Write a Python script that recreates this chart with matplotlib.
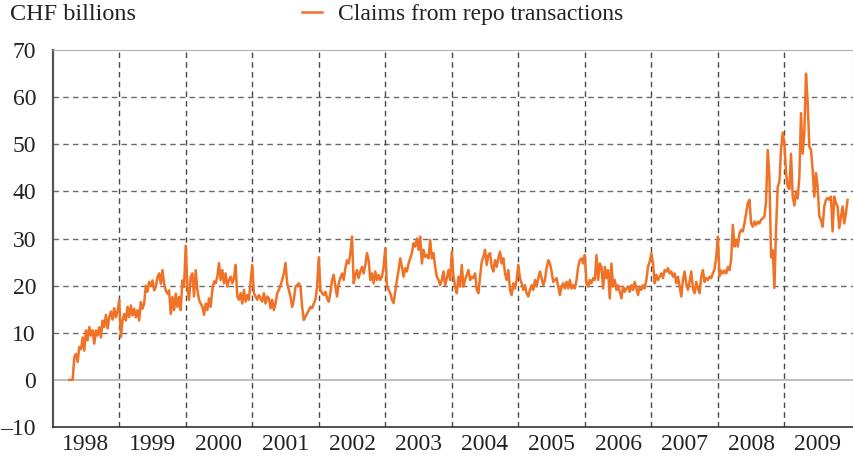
import matplotlib.pyplot as plt

plt.rcParams['font.family'] = ['Liberation Serif', 'DejaVu Serif']

# Claims from repo transactions, CHF billions
# one value about every 1/40 of a year (~9 days)
v1998 = [0, 0, 0, 4.8, 5.5, 3.8, 7, 6.5, 9, 6.2,
         10.5, 8.4, 11.2, 9.4, 10.5, 7.7, 10.5, 9.4, 11.2, 9,
         12.6, 11.2, 13.8, 10.9, 13.3, 14.5, 12.8, 15.2, 13.3, 14.6]
v1999 = [16.9, 9.1, 12.6, 14, 12.6, 15.5, 13.3, 15.8, 13.7, 15.1,
         13.3, 14.8, 12.6, 16.5, 15.1, 16.2, 20, 18.7, 20.8, 20,
         21.1, 19, 19.7, 21.8, 22.6, 20.4, 23.3, 20.4, 19, 18.3,
         19, 14, 17.6, 14.8, 18.3, 15.5, 17.6, 14.8, 21.1, 19.7]
v2000 = [28.5, 19.8, 17, 21.9, 22.6, 17.7, 23.3, 19.1, 17, 16.2,
         15.5, 13.8, 16.2, 14.8, 17.3, 15.5, 19.1, 20.9, 20.5, 21.9,
         24.8, 21.2, 23.3, 20.5, 22.6, 19.8, 21.2, 21.9, 20.5, 21.6,
         24.4, 17.7, 17, 18.4, 16.2, 19.1, 16.6, 18, 17, 20.9]
v2001 = [24.4, 18.4, 17.7, 17, 18, 17.3, 16.6, 18.4, 16.2, 17.7,
         17.3, 15.2, 17, 14.8, 16.2, 18.4, 19.1, 20.1, 21.2, 22.6,
         24.8, 20.5, 19.1, 17.7, 15.5, 17, 19.8, 20.1, 20.5, 19.8,
         15.5, 12.7, 13.4, 14.1, 14.8, 15.5, 15.2, 16.2, 17, 19.8]
v2002 = [26, 19.1, 18.4, 18, 18.7, 17.3, 16.6, 18.4, 21.2, 22.3,
         19.8, 17.7, 20.5, 21.6, 22.6, 21.2, 23.7, 25.4, 24.7, 26.9,
         30.4, 20.5, 22.3, 23.3, 21.6, 23, 24, 22.6, 24.4, 26.9,
         25.4, 21.2, 22.6, 20.5, 23, 21.2, 22.3, 21.2, 21.9, 24]
v2003 = [27.9, 19.8, 19.1, 18.4, 17, 16.3, 18.7, 21.2, 23.3, 25.8,
         24, 21.9, 23.7, 23, 24.7, 25.8, 26.9, 29, 28.3, 30,
         27.6, 30.4, 24.7, 27.6, 26.1, 26.5, 25.8, 29.7, 25.8, 26.9,
         24, 21.9, 21.2, 20.1, 21.2, 23, 20.1, 21.6, 23.3, 21.2]
v2004 = [27.2, 22, 19.8, 18.4, 21.9, 19.8, 24.4, 19.8, 21.2, 22.3,
         23.3, 21.2, 21.9, 21.6, 22.6, 19.1, 18.4, 21.9, 25.1, 26.1,
         27.6, 24.4, 26.5, 26.9, 24, 23, 25.4, 24, 25.8, 27.2,
         24.7, 25.8, 22.6, 21.2, 23.3, 19.1, 18, 20.5, 19.4, 21.2]
v2005 = [24.4, 21.6, 20.5, 19.1, 20.1, 18.4, 17.7, 19.1, 20.1, 19.1,
         21.2, 19.8, 21.6, 23, 21.6, 20.1, 21.2, 23.7, 25.4, 24.7,
         23, 20.8, 21.2, 21.6, 19.8, 18, 19.8, 20.5, 19.4, 20.8,
         19.4, 21.2, 19.4, 20.1, 19.4, 21.2, 24, 25.4, 25.8, 24.7]
v2006 = [26.5, 20.5, 19.8, 21.2, 20.5, 21.6, 21.2, 26.5, 21.2, 24.7,
         24, 19.4, 24, 21.6, 23.3, 17.3, 24.7, 19.8, 21.2, 19.1,
         20.1, 18.7, 17.3, 19.8, 18.7, 19.4, 19.8, 18.7, 20.1, 19.1,
         20.8, 19.4, 18, 19.8, 19.1, 20.1, 19.4, 21.2, 24, 25.1]
v2007 = [26.9, 24.7, 20.5, 22.3, 21.2, 21.9, 22.6, 21.6, 23.3, 23,
         23.7, 22.6, 23, 21.9, 22.6, 20.5, 21.9, 19.8, 17.7, 21.2,
         23, 20.5, 19.1, 20.8, 23, 19.4, 18.4, 20.8, 19.4, 18.4,
         21.9, 23.3, 20.8, 21.6, 21.2, 21.9, 21.6, 22.6, 23.5, 26]
v2008 = [30.4, 22, 23.2, 22.6, 23.2, 22.6, 24, 23.3, 25.5, 32.9,
         28.3, 29.7, 28.3, 31.1, 31.8, 31.5, 33.2, 35.4, 37.5, 38.2,
         33.2, 32.5, 33.6, 32.9, 33.6, 33.2, 34, 34.3, 34.7, 38,
         48.8, 43, 26, 27.5, 19.5, 32, 41, 42, 49, 52.5]
v2009 = [50.2, 44, 41, 40.5, 48, 39, 37, 40, 38.5, 43,
         56.6, 48, 52.4, 65, 59, 49.5, 48.8, 44.6, 38.9, 43.9,
         41, 34.7, 34, 32.5, 36.8, 38.2, 38.6, 38.2, 38.9, 31.5,
         38.9, 37.5, 36.8, 32.2, 34.5, 36.8, 33.2, 35.4, 38.2]

years = list(range(1998, 2010))
series = [v1998, v1999, v2000, v2001, v2002, v2003,
          v2004, v2005, v2006, v2007, v2008, v2009]
first_step = {1998: 10}  # 1998 data start in April

x, y = [], []
for yr, vals in zip(years, series):
    s = first_step.get(yr, 0)
    for i, v in enumerate(vals):
        x.append(yr + (s + i) / 40)
        y.append(v)

fig = plt.figure(figsize=(8.54, 4.58), dpi=100)
ax = fig.add_axes([0.0617, 0.0677, 0.937, 0.823])

ax.plot(x, y, color='#f07226', lw=1.8, label='Claims from repo transactions', zorder=3)

ax.set_xlim(1998, 2010.03)
ax.set_ylim(-10, 70)

# grid
ax.axhline(0, color='#b4b4b4', lw=1.2, zorder=1)
for v in range(10, 70, 10):
    ax.axhline(v, color='#6a6a6a', lw=1, ls=(0, (4, 3)), zorder=1)
for yr in years[1:]:
    ax.axvline(yr, color='#4a4a4a', lw=1, ls=(0, (4, 3)), zorder=1)

ax.set_xticks([yr + 0.5 for yr in years])
ax.set_xticklabels([str(yr) for yr in years])
yt = list(range(-10, 71, 10))
ax.set_yticks(yt)
ax.set_yticklabels([('–' + str(-t)) if t < 0 else str(t) for t in yt])
ax.tick_params(axis='both', length=0, labelsize=17, colors='#222222')
ax.tick_params(axis='y', pad=12)
ax.tick_params(axis='x', pad=5)

ax.spines['left'].set_color('#555555')
ax.spines['left'].set_linewidth(1.6)
ax.spines['bottom'].set_color('#333333')
ax.spines['bottom'].set_linewidth(1.2)
ax.spines['top'].set_color('#b0b0b0')
ax.spines['right'].set_color('#b0b0b0')

fig.text(0.012, 0.968, 'CHF billions', fontsize=17.5, color='#222222', va='center')
fig.legend(loc='center left', bbox_to_anchor=(0.342, 0.968), frameon=False,
           fontsize=17, handlelength=0.85, handletextpad=0.7, borderaxespad=0,
           labelcolor='#222222')

fig.savefig('out.png', dpi=100)
